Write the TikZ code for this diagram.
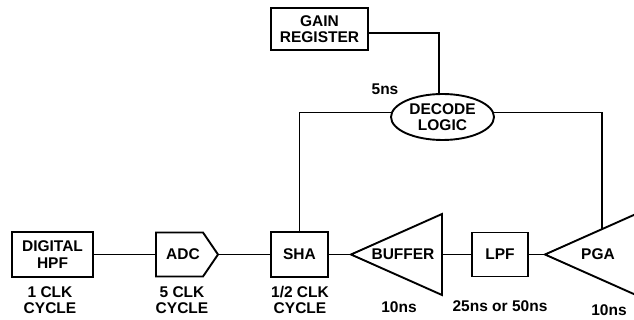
\documentclass[tikz,border=0pt]{standalone}
\usepackage{fontspec}
\setmainfont{Liberation Sans}
\usetikzlibrary{shapes.geometric,calc}
\begin{document}
\begin{tikzpicture}[x=1pt,y=-1pt,
  every node/.style={font=\fontsize{15.5}{16.5}\selectfont\bfseries, inner sep=0pt, align=center},
  blk/.style={draw, line width=1.9pt, rectangle},
  oval/.style={draw, line width=1.9pt, ellipse},
  wire/.style={line width=1.9pt},
  shapeline/.style={line width=1.9pt, line join=miter}
]
\useasboundingbox (0,0) rectangle (634,320);
\clip (0,0) rectangle (634,320);

% blocks
\node[blk, minimum width=81pt, minimum height=45pt] (hpf) at (52.5,254.5) {DIGITAL\\HPF};

\node (adc) at (183,254.5) {ADC};
\coordinate (adcnw) at ($(adc)+(-27,-22)$);
\coordinate (adcsw) at ($(adc)+(-27,22)$);
\coordinate (adcne) at ($(adc)+(20,-22)$);
\coordinate (adcse) at ($(adc)+(20,22)$);
\coordinate (adctip) at ($(adc)+(35,0)$);
\coordinate (adcin) at ($(adc)+(-27,0)$);
\draw[shapeline] (adcnw) -- (adcne) -- (adctip) -- (adcse) -- (adcsw) -- cycle;

\node[blk, minimum width=57pt, minimum height=45pt] (sha) at (299.5,254.5) {SHA};

\node (buffer) at (403,254.5) {BUFFER};
\coordinate (buftip) at ($(buffer)+(-52,0)$);
\coordinate (bufne) at ($(buffer)+(39,-40.5)$);
\coordinate (bufse) at ($(buffer)+(39,40.5)$);
\coordinate (bufback) at ($(buffer)+(39,0)$);
\draw[shapeline] (buftip) -- (bufne) -- (bufse) -- cycle;

\node[blk, minimum width=56pt, minimum height=44pt] (lpf) at (500,254.5) {LPF};

\node (pga) at (598,254.5) {PGA};
\coordinate (pgatip) at ($(pga)+(-53,0)$);
\coordinate (pgane) at ($(pga)+(38,-40.5)$);
\coordinate (pgase) at ($(pga)+(38,40.5)$);
\draw[shapeline] (pgatip) -- (pgane) -- (pgase) -- cycle;
\coordinate (pgain) at ($(pgatip)!0.626!(pgane)$);

\node[blk, minimum width=97pt, minimum height=42pt] (gain) at (319.5,29) {GAIN\\REGISTER};
\node[oval, minimum width=103pt, minimum height=46pt] (decode) at (442.5,117) {DECODE\\LOGIC};
\coordinate (gdrop) at ($(decode.north)+(-3.5,0)$);

% connectors
\draw[wire] (hpf.east) -- (adcin);
\draw[wire] (adctip) -- (sha.west);
\draw[wire] (sha.east) -- (buftip);
\draw[wire] (bufback) -- (lpf.west);
\draw[wire] (lpf.east) -- (pgatip);
\draw[wire] (sha.north) |- (decode.175);
\draw[wire] (decode.5) -| (pgain);
\draw[wire] (gain.-5) -| (gdrop);

% labels
\node (l1) at (50,300) {1 CLK\\CYCLE};
\node (l2) at (182,300) {5 CLK\\CYCLE};
\node (l3) at (300,300) {1/2 CLK\\CYCLE};
\node (l4) at (399,307.5) {10ns};
\node (l5) at (500,306) {25ns or 50ns};
\node (l6) at (609,310) {10ns};
\node (l7) at (385,89) {5ns};
\end{tikzpicture}
\end{document}
